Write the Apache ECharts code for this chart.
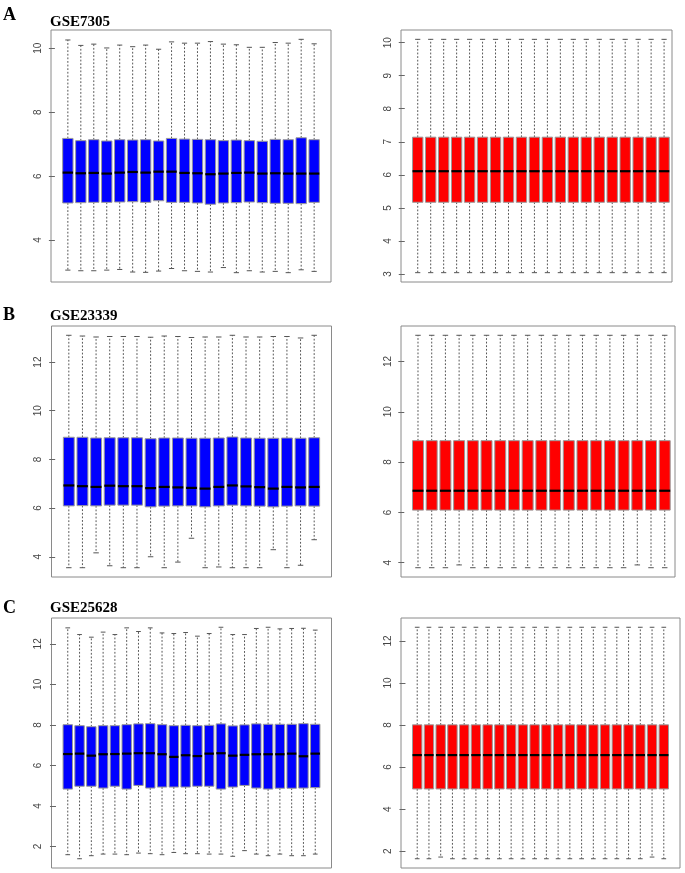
<!DOCTYPE html>
<html>
<head>
<meta charset="utf-8">
<script src="https://cdn.jsdelivr.net/npm/echarts@6/dist/echarts.min.js"></script>
<style>
html,body{margin:0;padding:0;background:#fff;}
#chart{width:685px;height:873px;}
</style>
</head>
<body>
<div id="chart"></div>
<script>
// ---------- Panel A : GSE7305 ----------
const aLmin = [3.06,3.04,3.04,3.06,3.08,3.00,2.99,3.03,3.11,3.04,3.02,3.00,3.14,2.98,3.04,3.00,3.02,2.98,3.07,3.02];
const aLq1  = [5.16,5.17,5.18,5.18,5.19,5.20,5.18,5.23,5.18,5.18,5.16,5.12,5.16,5.17,5.19,5.17,5.15,5.15,5.14,5.18];
const aLmed = [6.11,6.09,6.10,6.08,6.11,6.13,6.11,6.14,6.14,6.10,6.09,6.06,6.08,6.10,6.11,6.08,6.09,6.08,6.08,6.08];
const aLq3  = [7.18,7.11,7.14,7.10,7.14,7.13,7.14,7.10,7.18,7.16,7.15,7.14,7.11,7.13,7.11,7.09,7.15,7.14,7.20,7.14];
const aLmax = [10.26,10.09,10.13,10.01,10.10,10.05,10.10,9.97,10.20,10.16,10.16,10.21,10.13,10.11,10.03,10.03,10.18,10.16,10.28,10.14];

const aRmin = [3.04,3.04,3.04,3.04,3.04,3.04,3.04,3.04,3.04,3.04,3.04,3.04,3.04,3.04,3.04,3.04,3.04,3.04,3.04,3.04];
const aRq1  = [5.17,5.17,5.17,5.17,5.17,5.17,5.17,5.17,5.17,5.17,5.17,5.17,5.17,5.17,5.17,5.17,5.17,5.17,5.17,5.17];
const aRmed = [6.11,6.11,6.11,6.11,6.11,6.11,6.11,6.11,6.11,6.11,6.11,6.11,6.11,6.11,6.11,6.11,6.11,6.11,6.11,6.11];
const aRq3  = [7.14,7.14,7.14,7.14,7.14,7.14,7.14,7.14,7.14,7.14,7.14,7.14,7.14,7.14,7.14,7.14,7.14,7.14,7.14,7.14];
const aRmax = [10.10,10.10,10.10,10.10,10.10,10.10,10.10,10.10,10.10,10.10,10.10,10.10,10.10,10.10,10.10,10.10,10.10,10.10,10.10,10.10];

// ---------- Panel B : GSE23339 ----------
const bLmin = [3.55,3.55,4.16,3.63,3.55,3.55,4.00,3.55,3.78,4.76,3.55,3.58,3.55,3.55,3.55,4.29,3.55,3.65,4.70];
const bLq1  = [6.09,6.10,6.09,6.12,6.12,6.12,6.05,6.08,6.09,6.09,6.05,6.09,6.12,6.09,6.08,6.05,6.08,6.09,6.08];
const bLmed = [6.93,6.90,6.87,6.92,6.90,6.90,6.82,6.87,6.85,6.83,6.80,6.87,6.93,6.89,6.86,6.80,6.87,6.85,6.87];
const bLq3  = [8.91,8.91,8.88,8.89,8.89,8.89,8.85,8.88,8.88,8.87,8.87,8.88,8.92,8.88,8.87,8.87,8.88,8.87,8.89];
const bLmax = [13.10,13.07,13.03,13.05,13.05,13.05,13.02,13.07,13.05,13.01,13.03,13.03,13.10,13.03,13.03,13.05,13.05,12.99,13.10];

const bRmin = [3.80,3.80,3.80,3.91,3.80,3.80,3.80,3.80,3.80,3.80,3.80,3.80,3.80,3.80,3.80,3.80,3.91,3.80,3.80];
const bRq1  = [6.09,6.09,6.09,6.09,6.09,6.09,6.09,6.09,6.09,6.09,6.09,6.09,6.09,6.09,6.09,6.09,6.09,6.09,6.09];
const bRmed = [6.86,6.86,6.86,6.86,6.86,6.86,6.86,6.86,6.86,6.86,6.86,6.86,6.86,6.86,6.86,6.86,6.86,6.86,6.86];
const bRq3  = [8.85,8.85,8.85,8.85,8.85,8.85,8.85,8.85,8.85,8.85,8.85,8.85,8.85,8.85,8.85,8.85,8.85,8.85,8.85];
const bRmax = [13.04,13.04,13.04,13.04,13.04,13.04,13.04,13.04,13.04,13.04,13.04,13.04,13.04,13.04,13.04,13.04,13.04,13.04,13.04];

// ---------- Panel C : GSE25628 ----------
const cLmin = [1.59,1.39,1.54,1.62,1.62,1.59,1.67,1.64,1.59,1.70,1.64,1.64,1.62,1.62,1.51,1.79,1.62,1.54,1.62,1.54,1.54,1.62];
const cLq1  = [4.83,4.97,4.97,4.88,4.97,4.83,5.01,4.88,4.93,4.93,4.93,4.97,4.97,4.83,4.93,5.01,4.88,4.83,4.87,4.87,4.88,4.90];
const cLmed = [6.56,6.58,6.48,6.55,6.56,6.58,6.60,6.60,6.55,6.42,6.50,6.46,6.58,6.60,6.48,6.52,6.55,6.55,6.55,6.58,6.45,6.58];
const cLq3  = [8.01,7.96,7.91,7.96,7.96,8.01,8.05,8.06,8.01,7.96,7.98,7.96,7.98,8.05,7.95,8.00,8.05,8.03,8.03,8.03,8.06,8.03];
const cLmax = [12.79,12.46,12.33,12.58,12.46,12.79,12.61,12.79,12.54,12.51,12.56,12.38,12.51,12.82,12.46,12.46,12.76,12.82,12.74,12.76,12.77,12.68];

const cRmin = [1.64,1.64,1.72,1.64,1.64,1.64,1.64,1.64,1.64,1.64,1.64,1.64,1.64,1.64,1.64,1.64,1.64,1.64,1.64,1.64,1.72,1.64];
const cRq1  = [4.96,4.96,4.96,4.96,4.96,4.96,4.96,4.96,4.96,4.96,4.96,4.96,4.96,4.96,4.96,4.96,4.96,4.96,4.96,4.96,4.96,4.96];
const cRmed = [6.57,6.57,6.57,6.57,6.57,6.57,6.57,6.57,6.57,6.57,6.57,6.57,6.57,6.57,6.57,6.57,6.57,6.57,6.57,6.57,6.57,6.57];
const cRq3  = [8.01,8.01,8.01,8.01,8.01,8.01,8.01,8.01,8.01,8.01,8.01,8.01,8.01,8.01,8.01,8.01,8.01,8.01,8.01,8.01,8.01,8.01];
const cRmax = [12.65,12.65,12.65,12.65,12.65,12.65,12.65,12.65,12.65,12.65,12.65,12.65,12.65,12.65,12.65,12.65,12.65,12.65,12.65,12.65,12.65,12.65];

// ---------- tick labels ----------
const ticksAL = [4, 6, 8, 10];
const ticksAR = [3, 4, 5, 6, 7, 8, 9, 10];
const ticksBL = [4, 6, 8, 10, 12];
const ticksBR = [4, 6, 8, 10, 12];
const ticksCL = [2, 4, 6, 8, 10, 12];
const ticksCR = [2, 4, 6, 8, 10, 12];

const panelTitles = ['GSE7305', 'GSE23339', 'GSE25628'];
const panelLetters = ['A', 'B', 'C'];

const BLUE = '#0000ff', RED = '#ff0000';

const panels = [
  {d:[aLmin,aLq1,aLmed,aLq3,aLmax], ticks:ticksAL, color:BLUE, grid:{left:51, top:30, width:280, height:252}, padL:1.3, padR:1.3},
  {d:[aRmin,aRq1,aRmed,aRq3,aRmax], ticks:ticksAR, color:RED,  grid:{left:401, top:30, width:271, height:252}, padL:1.29, padR:0.61},
  {d:[bLmin,bLq1,bLmed,bLq3,bLmax], ticks:ticksBL, color:BLUE, grid:{left:51.5, top:326, width:280, height:251}, padL:1.27, padR:1.27},
  {d:[bRmin,bRq1,bRmed,bRq3,bRmax], ticks:ticksBR, color:RED,  grid:{left:401, top:326, width:274, height:251}, padL:1.24, padR:0.75},
  {d:[cLmin,cLq1,cLmed,cLq3,cLmax], ticks:ticksCL, color:BLUE, grid:{left:51.5, top:618, width:280, height:250}, padL:1.38, padR:1.38},
  {d:[cRmin,cRq1,cRmed,cRq3,cRmax], ticks:ticksCR, color:RED,  grid:{left:401, top:618, width:279, height:250}, padL:1.38, padR:1.38}
];

function renderBox(params, api) {
  const x = api.value(0);
  const vMin = api.value(1), vQ1 = api.value(2), vMed = api.value(3), vQ3 = api.value(4), vMax = api.value(5);
  const w = api.size([0.8, 0])[0];
  const half = w / 2, st = w / 4;
  const pMin = api.coord([x, vMin]), pQ1 = api.coord([x, vQ1]), pMed = api.coord([x, vMed]);
  const pQ3 = api.coord([x, vQ3]), pMax = api.coord([x, vMax]);
  const cx = pMin[0];
  const color = api.visual('color');
  const dash = {stroke:'#555', lineWidth:1, lineDash:[1.8,1.8]};
  const solid = {stroke:'#555', lineWidth:1};
  return {
    type:'group',
    children:[
      {type:'line', shape:{x1:cx, y1:pQ3[1], x2:cx, y2:pMax[1]}, style:dash},
      {type:'line', shape:{x1:cx, y1:pQ1[1], x2:cx, y2:pMin[1]}, style:dash},
      {type:'line', shape:{x1:cx-st, y1:pMax[1], x2:cx+st, y2:pMax[1]}, style:solid},
      {type:'line', shape:{x1:cx-st, y1:pMin[1], x2:cx+st, y2:pMin[1]}, style:solid},
      {type:'rect', shape:{x:cx-half, y:pQ3[1], width:w, height:pQ1[1]-pQ3[1]}, style:{fill:color, stroke:'#9a9a9a', lineWidth:1}},
      {type:'line', shape:{x1:cx-half, y1:pMed[1], x2:cx+half, y2:pMed[1]}, style:{stroke:'#000', lineWidth:2.2}}
    ]
  };
}

const grids = [], xAxes = [], yAxes = [], series = [];
panels.forEach((p, i) => {
  const n = p.d[0].length;
  const lo = Math.min(...p.d[0]), hi = Math.max(...p.d[4]);
  const pad = 0.04 * (hi - lo);
  grids.push(Object.assign({show:true, borderColor:'#8a8a8a', borderWidth:1, backgroundColor:'transparent', containLabel:false}, p.grid));
  xAxes.push({type:'value', gridIndex:i, min:1 - p.padL, max:n + p.padR, show:false});
  yAxes.push({
    type:'value', gridIndex:i, min:lo - pad, max:hi + pad,
    axisLine:{show:false},
    splitLine:{show:false},
    axisTick:{show:true, inside:false, length:6, lineStyle:{color:'#666', width:1}, customValues:p.ticks},
    axisLabel:{show:true, rotate:90, margin:8, fontSize:10, color:'#444', fontFamily:'Liberation Sans, Arial, sans-serif', customValues:p.ticks, formatter:(v)=>String(v)}
  });
  const data = p.d[0].map((_, k) => [k + 1, p.d[0][k], p.d[1][k], p.d[2][k], p.d[3][k], p.d[4][k]]);
  series.push({
    type:'custom', xAxisIndex:i, yAxisIndex:i, itemStyle:{color:p.color},
    renderItem:renderBox, data:data, encode:{x:0, y:[1,2,3,4,5]}, silent:true, clip:false
  });
});

const titleTops = [[6, 15], [306, 309], [599, 601]];
const titles = [];
panelLetters.forEach((L, i) => {
  titles.push({text:L, left:3, top:titleTops[i][0], padding:0,
    textStyle:{fontFamily:'Liberation Serif, Times New Roman, serif', fontWeight:'bold', fontSize:18, color:'#000'}});
  titles.push({text:panelTitles[i], left:50, top:titleTops[i][1], padding:0,
    textStyle:{fontFamily:'Liberation Serif, Times New Roman, serif', fontWeight:'bold', fontSize:15, color:'#000'}});
});

const chart = echarts.init(document.getElementById('chart'), null, {renderer:'canvas'});
chart.setOption({
  animation:false,
  backgroundColor:'#fff',
  title:titles,
  grid:grids,
  xAxis:xAxes,
  yAxis:yAxes,
  series:series
});
</script>
</body>
</html>
